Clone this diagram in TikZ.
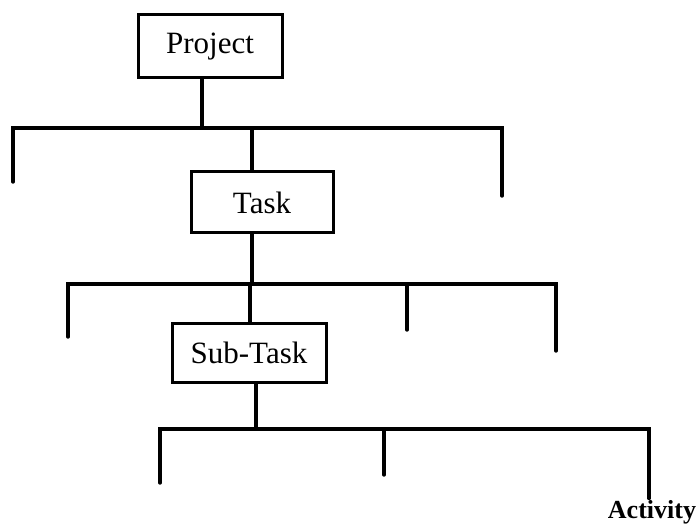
\documentclass[tikz,border=0pt]{standalone}
\usepackage{fontspec}
\setmainfont{Liberation Serif}
\usepackage{tikz}
\usetikzlibrary{calc}

\begin{document}
\begin{tikzpicture}[x=0.5pt,y=-0.5pt,line width=1.7pt,line cap=round]
\tikzset{box/.style={draw,line width=1.5pt,inner sep=0pt,font=\fontsize{15.5}{18}\selectfont},
         lbl/.style={font=\bfseries\fontsize{13}{15}\selectfont,inner sep=0pt}}
\useasboundingbox (0,0) rectangle (696,529);
% boxes
\node[box,minimum width=72pt,minimum height=31.5pt] (project) at (210,46.5) {Project};
\node[box,minimum width=71pt,minimum height=30.5pt] (task) at (262,202.5) {Task};
\node[box,minimum width=77pt,minimum height=29.5pt] (subtask) at (249,352.5) {Sub-Task};
\node[lbl] (activity) at (652,512) {Activity};
% first level
\coordinate (p1) at (202,128); \coordinate (l1) at (13,128); \coordinate (r1) at (502,128);
\coordinate (t1) at (252,128);
\draw (project.south -| p1) -- (p1);
\draw (l1) ++(0,54) coordinate (l1e) -- (l1) -- (r1) -- ++(0,68) coordinate (r1e);
\draw (t1) -- (t1 |- task.north);
% second level
\coordinate (p2) at (252,284); \coordinate (l2) at (68,284); \coordinate (r2) at (556,284);
\coordinate (m2) at (407,284); \coordinate (s2) at (250,284);
\draw (task.south -| p2) -- (p2);
\draw (l2) ++(0,53) coordinate (l2e) -- (l2) -- (r2) -- ++(0,67) coordinate (r2e);
\draw (m2) -- ++(0,46) coordinate (m2e);
\draw (s2) -- (s2 |- subtask.north);
% third level
\coordinate (p3) at (256,429); \coordinate (l3) at (160,429); \coordinate (r3) at (649,429);
\coordinate (m3) at (384,429);
\draw (subtask.south -| p3) -- (p3);
\draw (l3) ++(0,54) coordinate (l3e) -- (l3) -- (r3) -- (r3 |- activity.north);
\draw (m3) -- ++(0,46) coordinate (m3e);
\end{tikzpicture}
\end{document}
